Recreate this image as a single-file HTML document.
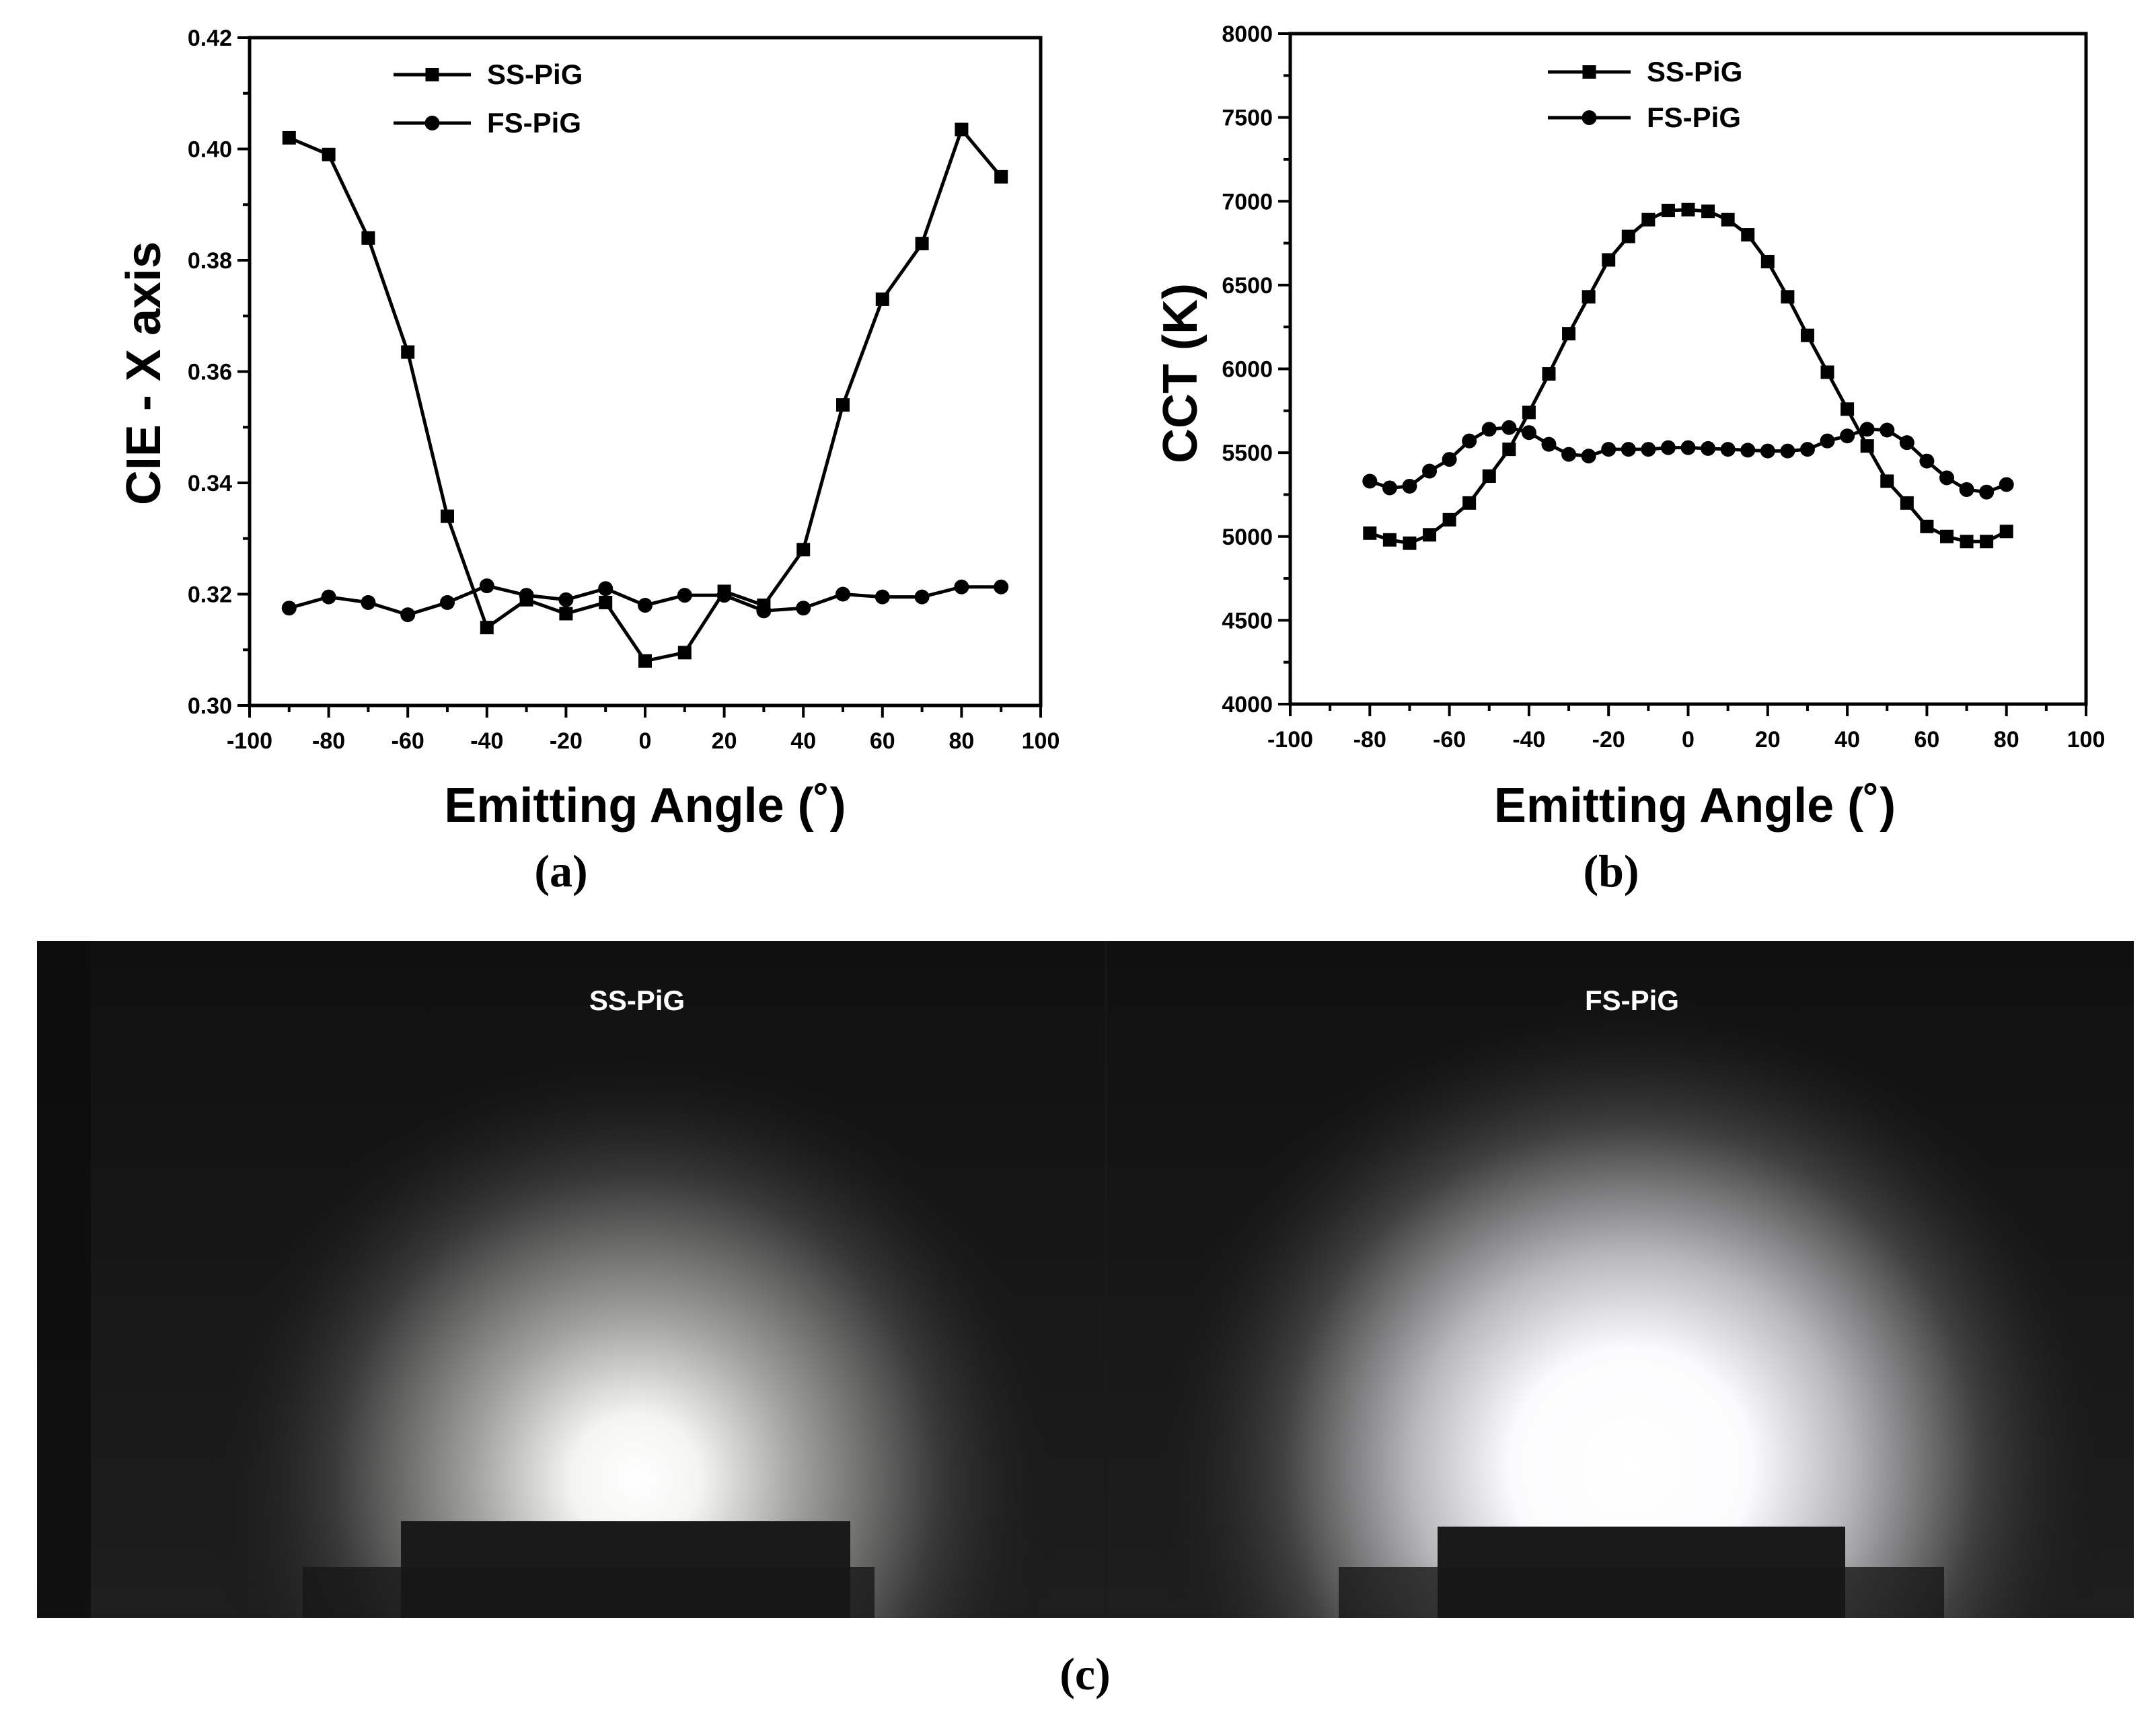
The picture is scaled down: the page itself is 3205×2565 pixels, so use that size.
<!DOCTYPE html>
<html><head><meta charset="utf-8"><style>
html,body{margin:0;padding:0;background:#fff;overflow:hidden;}
svg{display:block;}
</style></head><body>
<svg id="fig" width="3205" height="2565" viewBox="0 0 3205 2565" xmlns="http://www.w3.org/2000/svg" font-family="Liberation Sans,Arial,sans-serif">
<defs>
<clipPath id="pc"><rect x="55" y="1399" width="3117" height="1007"/></clipPath>
<radialGradient id="g1" cx="0.5" cy="0.5" r="0.5">
<stop offset="0" stop-color="#fff"/><stop offset="0.15" stop-color="#f4f4f2"/><stop offset="0.38" stop-color="#a0a09e"/><stop offset="0.7" stop-color="#3a3a3a"/><stop offset="1" stop-color="#161616" stop-opacity="0"/>
</radialGradient>
<radialGradient id="g2" cx="0.5" cy="0.5" r="0.5">
<stop offset="0" stop-color="#fff"/><stop offset="0.25" stop-color="#fbfbfd"/><stop offset="0.45" stop-color="#b8b8bb"/><stop offset="0.72" stop-color="#404040"/><stop offset="1" stop-color="#161616" stop-opacity="0"/>
</radialGradient>
<linearGradient id="bg" x1="0" y1="0" x2="0" y2="1"><stop offset="0" stop-color="#101010"/><stop offset="1" stop-color="#1e1e1e"/></linearGradient>
</defs>
<g id="photo" clip-path="url(#pc)">
<rect x="55" y="1399" width="3117" height="1007" fill="url(#bg)"/>
<ellipse cx="945" cy="2200" rx="640" ry="640" fill="url(#g1)"/>
<ellipse cx="2424" cy="2180" rx="720" ry="700" fill="url(#g2)"/>
<rect x="55" y="1399" width="80" height="1007" fill="#0c0c0c" opacity="0.8"/>
<rect x="1642" y="1399" width="4" height="1007" fill="#1a1a1a" opacity="0.6"/>
<rect x="596" y="2262" width="668" height="144" fill="#1a1a1a"/>
<rect x="450" y="2330" width="850" height="76" fill="#161616" opacity="0.8"/>
<rect x="2137" y="2270" width="606" height="136" fill="#1a1a1a"/>
<rect x="1990" y="2330" width="900" height="76" fill="#161616" opacity="0.8"/>
<text x="947" y="1502" font-size="42" font-weight="bold" fill="#fff" text-anchor="middle">SS-PiG</text>
<text x="2426" y="1502" font-size="42" font-weight="bold" fill="#fff" text-anchor="middle">FS-PiG</text>
</g>
<text x="1613" y="2512" font-family="Liberation Serif,serif" font-size="68" font-weight="bold" text-anchor="middle">(c)</text>
</svg>
<script>
const angleA=[-90,-80,-70,-60,-50,-40,-30,-20,-10,0,10,20,30,40,50,60,70,80,90];
const ssCIE=[0.402,0.399,0.384,0.3635,0.334,0.314,0.319,0.3165,0.3185,0.308,0.3095,0.3205,0.318,0.328,0.354,0.373,0.383,0.4035,0.395];
const fsCIE=[0.3175,0.3195,0.3185,0.3163,0.3185,0.3215,0.3198,0.319,0.321,0.318,0.3198,0.3198,0.317,0.3175,0.32,0.3195,0.3195,0.3213,0.3213];
const angleB=[-80,-75,-70,-65,-60,-55,-50,-45,-40,-35,-30,-25,-20,-15,-10,-5,0,5,10,15,20,25,30,35,40,45,50,55,60,65,70,75,80];
const ssCCT=[5020,4980,4960,5010,5100,5200,5360,5520,5740,5970,6210,6430,6650,6790,6890,6945,6950,6940,6890,6800,6640,6430,6200,5980,5760,5540,5330,5200,5060,5000,4970,4970,5030];
const fsCCT=[5330,5290,5300,5390,5460,5570,5640,5650,5620,5550,5490,5480,5520,5520,5520,5530,5530,5525,5520,5515,5510,5510,5520,5570,5600,5640,5635,5560,5450,5350,5280,5265,5310];
const xTicks=[-100,-80,-60,-40,-20,0,20,40,60,80,100];
const yTicksA=["0.30","0.32","0.34","0.36","0.38","0.40","0.42"];
const yTicksB=["4000","4500","5000","5500","6000","6500","7000","7500","8000"];
const NS="http://www.w3.org/2000/svg";
const svg=document.getElementById('fig');
function mk(t,a,p){const e=document.createElementNS(NS,t);for(const k in a)e.setAttribute(k,a[k]);(p||svg).appendChild(e);return e;}
function chart(o){
  const g=mk('g',{});
  
  
  const sx=v=>o.x0+(v-(-100))/200*(o.x1-o.x0);
  const sy=v=>o.y1-(v-o.ymin)/(o.ymax-o.ymin)*(o.y1-o.y0);
  const fr=mk('rect',{x:o.x0,y:o.y0,width:o.x1-o.x0,height:o.y1-o.y0,fill:'none',stroke:'#000','stroke-width':5},g);
  
  
  for(let v=-100;v<=100;v+=10){const maj=v%20===0;
    mk('line',{x1:sx(v),x2:sx(v),y1:o.y1,y2:o.y1+(maj?18:10),stroke:'#000','stroke-width':4},g);}
  xTicks.forEach(v=>{const t=mk('text',{x:sx(v),y:o.y1+64,'font-size':34,'font-weight':'bold','text-anchor':'middle'},g);t.textContent=v;
    
    });
  const n=o.yt.length;
  for(let i=0;i<=(n-1)*2;i++){const v=o.ymin+i*(o.ymax-o.ymin)/((n-1)*2);const maj=i%2===0;
    mk('line',{x1:o.x0,x2:o.x0-(maj?18:10),y1:sy(v),y2:sy(v),stroke:'#000','stroke-width':4},g);}
  o.yt.forEach((s,i)=>{const v=o.ymin+i*(o.ymax-o.ymin)/(n-1);const t=mk('text',{x:o.x0-26,y:sy(v)+12,'font-size':34,'font-weight':'bold','text-anchor':'end'},g);t.textContent=s;
    
    });
  const yt=mk('text',{x:o.ytx,y:555,'font-size':72,'font-weight':'bold','text-anchor':'middle',transform:`rotate(-90 ${o.ytx} 555)`},g);yt.textContent=o.ytitle;
  
  
  const xt=mk('text',{x:(o.x0+o.x1)/2+o.xtoff,y:1222,'font-size':72,'font-weight':'bold','text-anchor':'middle'},g);xt.textContent='Emitting Angle (˚)';
  
  
  const pl=mk('text',{x:o.plx,y:1318,'font-family':'Liberation Serif,serif','font-size':68,'font-weight':'bold','text-anchor':'middle'},g);pl.textContent=o.panel;
  
  
  [[o.ss,'square','SS-PiG',o.ly[0]],[o.fs,'circle','FS-PiG',o.ly[1]]].forEach(([ys,m,lab,ly])=>{
    const pts=o.xs.map((x,i)=>[sx(x),sy(ys[i])]);
    const ln=mk('polyline',{points:pts.map(p=>p.join(',')).join(' '),fill:'none',stroke:'#000','stroke-width':5,'stroke-linejoin':'round'},g);
    
    
    pts.forEach(p=>{let e;
      if(m==='square')e=mk('rect',{x:p[0]-10,y:p[1]-10,width:20,height:20,fill:'#000'},g);
      else e=mk('circle',{cx:p[0],cy:p[1],r:11,fill:'#000'},g);
      
      });
    const lg=mk('g',{},g);
    
    
    mk('line',{x1:o.lx,x2:o.lx+o.lw,y1:ly,y2:ly,stroke:'#000','stroke-width':5},lg);
    if(m==='square')mk('rect',{x:o.lx+o.lw/2-10,y:ly-10,width:20,height:20},lg);else mk('circle',{cx:o.lx+o.lw/2,cy:ly,r:11},lg);
    const lt=mk('text',{x:o.lx+o.lw+24,y:ly+14,'font-size':42,'font-weight':'bold'},lg);lt.textContent=lab;
  });
}
chart({name:'cie-chart',x0:371,x1:1547,y0:56,y1:1049,ymin:0.30,ymax:0.42,yt:yTicksA,xs:angleA,ss:ssCIE,fs:fsCIE,ytitle:'CIE - X axis',ytx:238,xtoff:0,plx:834,panel:'(a)',lx:585,lw:115,ly:[111,183]});
chart({name:'cct-chart',x0:1918,x1:3101,y0:50,y1:1047,ymin:4000,ymax:8000,yt:yTicksB,xs:angleB,ss:ssCCT,fs:fsCCT,ytitle:'CCT (K)',ytx:1779,xtoff:10,plx:2395,panel:'(b)',lx:2301,lw:123,ly:[107,175]});
</script>
</body></html>
